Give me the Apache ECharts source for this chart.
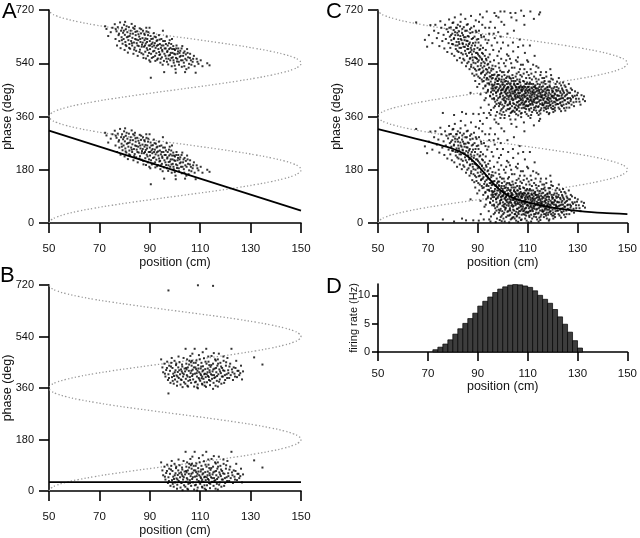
<!DOCTYPE html>
<html><head><meta charset="utf-8">
<script src="https://cdn.jsdelivr.net/npm/echarts@6/dist/echarts.min.js"></script>
<style>html,body{margin:0;padding:0;background:#fff}#c{width:640px;height:538px}</style>
</head><body><div id="c"></div>
<script>
// ---- tick values ----
const positionTicks = [50, 70, 90, 110, 130, 150];
const phaseTicks = [0, 180, 360, 540, 720];
const rateTicks = [0, 5, 10];
const rateMax = 12;

// ---- dotted reference curve (position at each phase) ----
const guidePhase = [0,10,20,30,40,50,60,70,80,90,100,110,120,130,140,150,160,170,180,190,200,210,220,230,240,250,260,270,280,290,300,310,320,330,340,350,360,370,380,390,400,410,420,430,440,450,460,470,480,490,500,510,520,530,540,550,560,570,580,590,600,610,620,630,640,650,660,670,680,690,700,710,720];
const guidePos = [50,50.8,53,56.7,61.7,67.9,75,82.9,91.3,100,108.7,117.1,125,132.1,138.3,143.3,147,149.2,150,149.2,147,143.3,138.3,132.1,125,117.1,108.7,100,91.3,82.9,75,67.9,61.7,56.7,53,50.8,50,50.8,53,56.7,61.7,67.9,75,82.9,91.3,100,108.7,117.1,125,132.1,138.3,143.3,147,149.2,150,149.2,147,143.3,138.3,132.1,125,117.1,108.7,100,91.3,82.9,75,67.9,61.7,56.7,53,50.8,50];

// ---- fitted lines ----
const fitA = [[50,312],[150,42]];
const fitB = [[50,31],[150,31]];
const fitC = [[50,317],[60,296],[70,275],[76,261],[80,251],[82,244],[84,236],[86,225],[88,211],[90,194],[92,175],[94,155],[96,136],[98,119],[100,105],[102,94],[104,86],[106,79],[108,74],[110,70],[115,60],[120,52],[125,46],[130,41],[140,34],[150,30]];

// ---- spikes (position cm, phase deg in one cycle) ----
const spikesA = [[72.3,305],[72.8,296],[74.5,285],[75.2,300],[73.5,272],
[76.1,312],[76.4,262],[76.8,288],[77.0,240],[77.3,302],[77.6,275],[77.9,255],[78.2,318],[78.4,231],[78.6,290],[78.8,268],
[79.0,300],[79.2,246],[79.4,283],[79.6,262],[79.8,310],[80.0,225],[80.1,276],[80.3,252],[80.5,295],[80.7,238],[80.9,268],[81.1,285],[81.3,216],[81.5,258],[81.7,302],[81.9,245],
[82.0,272],[82.2,229],[82.4,290],[82.6,255],[82.8,313],[83.0,240],[83.1,266],[83.3,280],[83.5,212],[83.7,250],[83.9,296],[84.0,233],[84.2,262],[84.4,275],[84.6,222],[84.8,248],
[85.0,288],[85.2,205],[85.4,258],[85.6,238],[85.8,270],[86.0,298],[86.1,226],[86.3,252],[86.5,281],[86.7,214],[86.9,243],[87.1,265],[87.3,290],[87.5,198],[87.7,236],[87.9,258],
[88.0,276],[88.2,219],[88.4,247],[88.6,300],[88.8,231],[89.0,262],[89.2,205],[89.4,285],[89.6,240],[89.8,190],[90.0,255],[90.1,228],[90.3,272],[90.5,212],[90.7,245],[90.4,131],[90.2,185],[89.9,300],
[91.0,236],[91.2,263],[91.4,201],[91.6,282],[91.8,222],[92.0,248],[92.2,188],[92.4,268],[92.6,214],[92.8,239],[93.0,258],[93.2,196],[93.4,228],[93.6,275],[93.8,208],[94.0,245],
[94.2,182],[94.4,232],[94.6,262],[94.8,200],[95.0,220],[95.2,290],[95.4,240],[95.6,188],[95.8,212],[96.0,255],[95.7,150],[96.3,230],[96.5,196],[96.7,270],[96.9,218],
[97.1,240],[97.3,176],[97.5,206],[97.7,228],[97.9,258],[98.1,190],[98.3,215],[98.5,245],[98.7,170],[98.9,228],[99.1,200],[99.3,238],[99.5,182],[99.7,212],
[100.0,225],[100.2,160],[100.4,198],[100.6,240],[100.8,186],[101.0,212],[101.3,230],[101.6,175],[101.9,202],[102.1,222],[102.4,190],[102.7,168],[102.9,238],
[103.2,205],[103.5,182],[103.8,220],[104.1,195],[104.5,160],[104.8,228],[105.2,200],[105.6,178],[106.0,212],[106.3,190],
[107.0,185],[107.5,205],[108.2,148],[108.6,195],[109.3,178],[112.8,180],[113.7,173],[100.3,148],[104.0,150],
[76.5,295],[77.8,280],[78.9,258],[79.7,290],[80.4,242],[80.8,305],[81.4,270],[81.8,232],[82.3,280],[82.9,248],[83.4,300],[83.8,226],[84.3,286],[84.7,260],[85.1,240],[85.5,278],[85.9,218],[86.2,262],[86.6,295],[86.8,236],[87.2,250],[87.4,210],[87.8,280],[88.1,240],[88.3,264],[88.5,196],[88.9,252],[89.1,225],[89.3,275],[89.7,215],[90.1,240],[90.6,262],[90.8,198],[91.1,250],[91.3,220],[91.7,240],[91.9,270],[92.1,205],[92.3,232],[92.7,255],[92.9,192],[93.3,242],[93.7,218],[93.9,260],[94.1,210],[94.3,195],[94.7,240],[94.9,225],[95.1,175],[95.3,255],[95.9,230],[96.2,205],[96.4,245],[96.8,185],[97.0,222],[97.4,195],[97.6,248],[98.0,208],[98.2,232],[98.6,198],[98.8,262],[99.0,215],[99.4,190],[99.6,228],[99.9,172],[100.1,210],[100.5,230],[100.9,195],[101.2,220],[101.5,185],[101.8,215],[102.3,205],[102.6,230],[103.0,190],[103.4,215],[103.7,170],[104.3,210],[104.6,190],[105.0,215],[105.4,165],[105.9,198],[106.5,175],[107.2,195],[107.8,170],[108.9,185],[110.2,190],[110.9,170],[88.7,288],[84.1,305],[80.2,320]];

const spikesB = [[94.5,100],[95.0,72],[95.3,55],[95.8,85],[96.2,40],[96.5,63],[96.9,92],[97.2,28],[97.4,48],[97.7,78],[97.4,341],
[98.0,60],[98.2,18],[98.5,88],[98.8,38],[99.0,70],[99.3,50],[99.5,15],[99.8,95],[100.0,30],[100.2,62],[100.4,80],[100.6,44],
[100.9,22],[101.1,56],[101.3,72],[101.5,35],[101.8,90],[102.0,48],[102.2,12],[102.4,65],[102.6,28],[102.8,82],[103.0,52],[103.2,40],[103.4,105],[103.6,20],[103.8,68],
[104.0,58],[104.2,137],[104.3,32],[104.5,85],[104.7,45],[104.9,8],[105.1,72],[105.3,25],[105.5,60],[105.7,95],[105.9,38],[106.1,112],[106.2,52],[106.4,18],[106.6,78],[106.8,42],[106.9,120],
[107.0,64],[107.2,30],[107.4,88],[107.6,5],[107.8,137],[107.9,50],[108.1,72],[108.3,22],[108.5,96],[108.7,40],[108.9,60],[109.0,12],[109.1,359],[109.2,80],[109.4,35],[109.6,55],[109.8,100],
[110.0,25],[110.2,68],[110.3,45],[110.5,88],[110.7,15],[110.9,58],[111.1,76],[111.3,32],[111.5,104],[111.6,48],[111.8,8],[112.0,66],[112.2,38],[112.4,137],[112.5,85],[112.7,20],[112.9,55],
[113.1,42],[113.3,92],[113.5,28],[113.7,62],[113.9,10],[114.1,74],[114.3,48],[114.5,112],[114.7,32],[114.9,58],[115.1,357],[115.1,85],[115.3,18],[115.5,45],[115.7,68],
[116.0,38],[116.2,96],[116.4,55],[116.6,25],[116.8,78],[117.0,5],[117.2,48],[117.4,120],[117.6,65],[117.8,30],[118.0,88],[118.2,52],[118.4,15],
[118.7,70],[119.0,40],[119.3,95],[119.6,60],[119.9,28],[120.2,78],[120.5,48],[120.8,105],[121.1,62],
[121.5,35],[121.9,85],[122.4,137],[122.8,55],[123.3,72],[123.8,40],[124.3,95],[124.8,60],[125.5,45],[126.2,78],[126.6,30],[127.0,58],
[131.4,107],[134.7,82],[102.7,58],[108.4,66],[110.6,34],[104.4,70],[106.3,90],[111.9,50],[99.6,42],[113.6,80],
[96.0,50],[96.8,70],[97.6,35],[98.4,75],[99.1,25],[99.9,55],[100.5,85],[101.0,40],[101.7,62],[102.3,30],[102.9,75],[103.5,48],[104.1,15],[104.6,65],[105.0,40],[105.6,82],[106.0,28],[106.5,60],[107.1,48],[107.5,72],[107.9,20],[108.2,88],[108.6,52],[109.3,68],[109.7,30],[110.1,50],[110.4,75],[110.8,40],[111.2,62],[111.7,20],[112.1,92],[112.6,48],[113.0,68],[113.4,38],[113.8,55],[114.0,25],[114.4,80],[114.8,45],[115.2,65],[115.6,35],[115.9,100],[116.3,70],[116.7,42],[117.1,85],[117.5,22],[117.9,58],[118.3,75],[118.6,40],[119.1,62],[119.5,18],[119.8,45],[120.3,90],[120.7,35],[121.2,52],[121.6,75],[122.1,45],[122.6,65],[123.0,28],[123.6,50],[124.0,70],[124.6,38],[125.2,60],[125.9,52],[104.8,100],[106.7,95],[109.5,115],[111.0,125],[113.2,110],[115.4,122],[117.0,100],[119.2,110],[101.4,110],[98.7,105],[100.8,8],[105.2,5],[108.8,2],[112.3,4],[116.1,8],[110.9,12],[103.0,3]];

const spikesC = [[65.3,318],[68.8,259],[69.7,236],[70.4,275],[71.0,309],[71.8,248],
[72.5,290],[73.0,310],[73.6,265],
[74.2,282],[74.6,238],[75.0,322],[75.4,300],[75.8,255],
[76.0,12],[76.3,276],[76.6,230],[76.9,310],[77.2,262],[77.5,295],[77.8,218],
[78.1,286],[78.3,248],[78.5,328],[78.8,270],[79.0,232],[79.2,301],[79.4,258],[79.6,212],[79.8,280],[79.9,316],
[80.1,244],[80.3,292],[80.5,265],[80.6,205],[80.8,335],[81.0,275],[81.2,228],[81.3,300],[81.5,252],[81.7,190],[81.8,283],[81.9,240],
[82.0,310],[82.2,262],[82.3,218],[82.5,288],[82.6,245],[82.8,198],[83.0,272],[83.1,320],[83.3,232],[83.5,258],[83.6,182],[83.8,296],[83.9,248],[83.2,345],
[84.0,210],[84.1,275],[84.3,236],[84.4,302],[84.6,190],[84.7,258],[84.9,222],[85.0,330],[85.1,268],[85.3,170],[85.4,243],[85.6,290],[85.7,205],[85.9,255],[85.3,9],[85.8,228],
[86.0,312],[86.1,238],[86.3,185],[86.4,270],[86.5,215],[86.7,160],[86.8,250],[86.9,295],[87.0,198],[87.2,232],[87.3,340],[87.4,175],[87.6,262],[87.7,210],[87.8,145],[87.9,285],[87.1,80],[87.5,225],
[88.0,190],[88.1,248],[88.2,9],[88.3,165],[88.4,220],[88.5,305],[88.6,138],[88.7,270],[88.8,200],[88.9,240],[89.0,120],[89.1,180],[89.2,325],[89.3,215],[89.4,155],[89.6,260],[89.7,195],[89.8,100],[89.9,232],[89.5,285],
[90.0,170],[90.1,210],[90.2,135],[90.3,250],[90.4,190],[90.5,290],[90.6,110],[90.7,225],[90.8,160],[90.9,345],[91.0,200],[91.1,75],[91.2,240],[91.3,145],[91.4,180],[91.5,268],[91.6,125],[91.7,215],[91.8,310],[91.9,165],[91.2,30],[91.6,195],
[92.0,150],[92.1,232],[92.2,95],[92.3,185],[92.4,120],[92.5,270],[92.6,170],[92.7,55],[92.8,205],[92.9,140],[93.0,300],[93.1,105],[93.2,225],[93.3,160],[93.4,80],[93.5,190],[93.6,355],[93.7,130],[93.8,248],[93.9,175],[92.4,12],[93.2,62],[93.5,145],[93.9,112],
[94.0,150],[94.1,90],[94.2,200],[94.3,125],[94.4,40],[94.5,165],[94.6,280],[94.7,108],[94.8,135],[94.9,70],[95.0,185],[95.1,320],[95.2,118],[95.3,22],[95.4,155],[95.5,95],[95.6,240],[95.7,140],[95.8,60],[95.9,172],[94.3,258],[94.8,210],[95.3,82],[95.6,128],[95.9,102],[95.1,5],
[96.0,130],[96.1,75],[96.2,160],[96.3,105],[96.4,30],[96.5,190],[96.6,88],[96.7,142],[96.8,265],[96.9,115],[97.0,50],[97.1,170],[97.2,95],[97.3,128],[97.4,340],[97.5,70],[97.6,150],[97.7,15],[97.8,110],[97.9,205],[96.2,225],[96.6,58],[97.0,98],[97.4,82],[97.8,135],[96.9,300],[97.5,42],[97.9,120],
[98.0,85],[98.1,140],[98.2,62],[98.3,110],[98.4,180],[98.5,35],[98.6,95],[98.7,125],[98.8,10],[98.9,75],[99.0,155],[99.1,100],[99.2,48],[99.3,230],[99.4,118],[99.5,80],[99.6,25],[99.7,135],[99.8,92],[99.9,58],[98.2,285],[98.6,165],[99.0,68],[99.4,195],[99.8,108],[98.4,128],[98.9,42],[99.3,88],[99.7,150],[99.1,355],
[100.0,115],[100.1,70],[100.2,30],[100.3,95],[100.4,150],[100.5,55],[100.6,125],[100.7,82],[100.8,5],[100.9,105],[101.0,45],[101.1,170],[101.2,78],[101.3,120],[101.4,20],[101.5,92],[101.6,60],[101.7,210],[101.8,135],[101.9,38],[100.1,250],[100.5,100],[100.9,65],[101.3,88],[101.7,110],[100.3,15],[100.7,140],[101.1,52],[101.5,75],[101.9,98],[100.6,310],[101.4,190],
[102.0,80],[102.1,118],[102.2,40],[102.3,98],[102.4,65],[102.5,155],[102.6,25],[102.7,88],[102.8,130],[102.9,50],[103.0,108],[103.1,72],[103.2,12],[103.3,92],[103.4,180],[103.5,58],[103.6,120],[103.7,35],[103.8,85],[103.9,140],[102.2,240],[102.6,70],[103.0,28],[103.4,102],[103.8,62],[102.4,112],[102.8,45],[103.2,78],[103.6,95],[103.9,18],[102.9,195],[103.5,335],[102.1,150],[103.3,128],
[104.0,95],[104.1,55],[104.2,130],[104.3,20],[104.4,78],[104.5,108],[104.6,42],[104.7,165],[104.8,68],[104.9,88],[105.0,30],[105.1,120],[105.2,60],[105.3,100],[105.4,8],[105.5,75],[105.6,145],[105.7,48],[105.8,92],[105.9,65],[104.2,220],[104.6,112],[105.0,82],[105.4,38],[105.8,125],[104.4,58],[104.8,15],[105.2,135],[105.6,98],[105.9,185],[105.1,350],[104.5,290],[104.9,72],[105.7,25],
[106.0,70],[106.1,110],[106.2,35],[106.3,88],[106.4,150],[106.5,52],[106.6,95],[106.7,18],[106.8,125],[106.9,62],[107.0,80],[107.1,40],[107.2,105],[107.3,175],[107.4,58],[107.5,92],[107.6,28],[107.7,135],[107.8,72],[107.9,48],[106.1,200],[106.5,78],[106.9,100],[107.3,10],[107.7,85],[106.3,65],[106.7,118],[107.1,140],[107.5,45],[107.9,98],[106.8,260],[107.4,358],[106.4,30],[107.6,68],
[108.0,90],[108.1,55],[108.2,120],[108.3,30],[108.4,75],[108.5,102],[108.6,42],[108.7,160],[108.8,65],[108.9,85],[109.0,15],[109.1,110],[109.2,50],[109.3,80],[109.4,130],[109.5,38],[109.6,95],[109.7,60],[109.8,190],[109.9,72],[108.2,240],[108.6,70],[109.0,100],[109.4,25],[109.8,115],[108.4,145],[108.8,48],[109.2,68],[109.6,8],[109.9,88],[108.5,340],[109.1,35],
[110.0,62],[110.1,100],[110.2,35],[110.3,80],[110.4,140],[110.5,50],[110.6,90],[110.7,20],[110.8,70],[110.9,115],[111.0,42],[111.1,85],[111.2,160],[111.3,58],[111.4,28],[111.5,98],[111.6,72],[111.7,125],[111.8,45],[111.9,82],[110.2,185],[110.6,110],[111.0,65],[111.4,5],[111.8,95],[110.4,38],[110.8,130],[111.2,78],[111.6,52],[111.1,355],
[112.0,75],[112.1,40],[112.2,110],[112.3,58],[112.4,90],[112.5,22],[112.6,135],[112.7,68],[112.8,48],[112.9,100],[113.0,82],[113.1,30],[113.2,150],[113.3,62],[113.4,95],[113.5,45],[113.6,118],[113.7,72],[113.8,12],[113.9,88],[112.2,175],[112.6,55],[113.0,105],[113.4,35],[113.8,65],[112.8,205],[113.3,128],[112.4,80],
[114.0,60],[114.1,95],[114.2,32],[114.3,78],[114.4,125],[114.5,50],[114.6,85],[114.7,18],[114.8,68],[114.9,108],[115.0,42],[115.1,140],[115.2,75],[115.3,55],[115.4,92],[115.5,28],[115.6,115],[115.7,65],[115.8,82],[115.9,45],[114.3,165],[114.7,100],[115.1,10],[115.5,70],[115.9,130],[115.0,352],
[116.0,72],[116.1,38],[116.2,102],[116.3,55],[116.4,85],[116.5,20],[116.6,130],[116.7,62],[116.8,92],[116.9,45],[117.0,75],[117.1,110],[117.2,30],[117.3,68],[117.4,150],[117.5,50],[117.6,88],[117.7,15],[117.8,60],[117.9,98],[116.4,40],[116.8,120],[117.2,82],[117.6,35],
[118.0,58],[118.1,90],[118.2,28],[118.3,72],[118.4,118],[118.5,45],[118.6,80],[118.7,12],[118.8,62],[118.9,100],[119.0,38],[119.2,75],[119.4,140],[119.6,52],[119.8,88],[119.9,25],[118.4,55],[118.8,105],[119.2,40],[119.6,68],[119.9,82],[119.1,160],
[120.0,65],[120.2,35],[120.4,95],[120.6,50],[120.8,78],[121.0,20],[121.2,110],[121.4,58],[121.6,85],[121.8,42],[120.1,125],[120.5,70],[120.9,30],[121.3,62],[121.7,100],[121.1,48],[120.3,15],[121.9,72],
[122.0,55],[122.2,88],[122.4,30],[122.6,70],[122.8,112],[123.0,45],[123.2,80],[123.4,18],[123.6,62],[123.8,95],[122.5,130],[123.1,60],[123.5,38],[123.9,75],
[124.0,50],[124.3,85],[124.6,28],[124.9,68],[125.2,100],[125.5,42],[125.8,75],[124.2,115],[124.7,55],[125.1,20],[125.6,90],[125.9,60],
[126.1,48],[126.4,80],[126.7,30],[127.0,62],[127.3,95],[127.6,40],[127.9,70],[126.5,110],[127.2,52],
[128.2,65],[128.6,35],[129.0,85],[129.5,50],[129.8,72],
[130.5,60],[131.2,40],[132.6,68],[133.0,52],
[78.6,300],[79.3,275],[79.7,245],[80.2,318],[80.4,262],[80.9,285],[81.1,240],[81.6,300],[81.8,222],[82.1,275],[82.4,252],[82.7,232],[82.9,305],[83.2,262],[83.4,215],[83.7,282],[84.0,245],[84.2,195],[84.5,268],[84.8,235],[85.0,290],[85.2,212],[85.5,256],[85.8,180],[86.0,272],[86.2,228],[86.5,245],[86.8,195],[87.0,282],[87.1,218],[87.3,168],[87.6,240],[87.9,200],[88.1,265],[88.3,182],[88.6,228],[88.9,160],[89.1,250],[89.3,198],[89.5,142],[89.8,215],[90.0,185],[90.2,262],[90.4,158],[90.6,205],[90.8,130],[91.0,228],[91.2,172],[91.5,148],[91.7,192],[91.9,118],[92.1,212],[92.3,155],[92.6,132],[92.8,180],[93.0,102],[93.3,195],[93.5,125],[93.8,158],[94.0,85],[94.2,178],[94.5,112],[94.8,148],[95.0,68],[95.2,135],[95.5,162],[95.7,108],[95.9,88],[85.6,310],[87.4,300],[89.2,290],[91.3,275],[93.1,260],[90.5,320],[92.0,335],[94.6,300],[96.4,280],[97.8,250],[98.5,220],[99.2,270],
[96.1,95],[96.3,140],[96.5,62],[96.7,108],[96.9,35],[97.1,125],[97.3,80],[97.6,100],[97.8,55],[98.0,120],[98.2,90],[98.4,45],[98.6,140],[98.8,65],[99.0,105],[99.2,20],[99.4,78],[99.6,125],[99.8,40],[100.0,90],[100.2,108],[100.4,62],[100.6,35],[100.8,118],[101.0,85],[101.2,50],[101.4,130],[101.6,95],[101.8,70],[102.0,25],[102.2,100],[102.4,58],[102.6,135],[102.8,82],[103.0,42],[103.2,112],[103.4,68],[103.6,15],[103.8,100],[104.0,78],[104.2,45],[104.4,120],[104.6,85],[104.8,30],[105.0,105],[105.2,65],[105.4,90],[105.6,22],[105.8,110],[106.0,48],[106.2,80],[106.4,100],[106.6,40],[106.8,70],[107.0,115],[107.2,55],[107.4,88],[107.6,12],[107.8,100],[108.0,62],[108.2,40],[108.4,95],[108.6,118],[108.8,28],[109.0,78],[109.2,90],[109.4,52],[109.6,110],[109.8,35],[110.0,85],[110.2,58],[110.4,100],[110.6,25],[110.8,92],[111.0,55],[111.2,40],[111.4,110],[111.6,65],[111.8,15],[112.0,85],[112.2,50],[112.4,100],[112.6,30],[112.8,75],[113.0,60],[113.2,95],[113.4,20],[113.6,85],[113.8,48],[114.0,110],[114.2,68],[114.4,35],[114.6,90],[114.8,55],[115.0,80],[115.2,22],[115.4,65],[115.6,100],[115.8,40],[116.0,88],[116.2,60],[116.4,115],[116.6,30],[116.8,72],[117.0,50],[117.2,95],[117.4,25],[117.6,78],[117.8,45],[118.0,100],[118.2,65],[118.4,35],[118.6,88],[118.8,50],[119.0,118],[119.2,60],[119.4,30],[119.6,95],[119.8,70],[120.0,45],[120.2,85],[120.4,25],[120.6,62],[120.8,100],[121.0,75],[121.2,40],[121.4,90],[121.6,55],[121.8,118],[122.0,70],[122.2,42],[122.4,95],[122.6,58],[122.8,25],[123.0,85],[123.2,48],[123.4,105],[123.6,70],[123.8,35],[124.0,90],[124.2,62],[124.4,40],[124.6,80],[124.8,105],[125.0,55],[125.3,72],[125.6,30],[125.9,85],[126.2,62],[126.6,45],[127.0,80],[127.4,58],[127.8,90],[128.4,48],[128.9,70],[129.4,60],[130.1,80],[130.8,50],[131.6,72],[132.2,58],
[100.5,180],[102.3,205],[103.7,165],[105.3,190],[106.9,160],[108.1,175],[109.7,150],[111.5,145],[113.5,170],[115.3,150],[117.5,135],[119.5,128],[104.1,250],[106.2,235],[108.9,215],[110.9,240],[101.9,280],[99.5,320],[103.1,350],[105.5,325],[108.7,310],[112.5,330],[114.6,345],[96.7,350],[98.3,335],[100.7,355],
[80.5,5],[83.7,15],[90.4,8],[94.6,12],[97.2,3],[99.6,6],[102.6,2],[106.2,4],[110.3,2],[114.4,5],[118.5,8]];

// ---- firing-rate histogram (2 cm bins, left edges) ----
const rateBinLeft = [72,74,76,78,80,82,84,86,88,90,92,94,96,98,100,102,104,106,108,110,112,114,116,118,120,122,124,126,128,130];
const rateHz = [0.4,0.85,1.4,2.15,3.15,4.1,5.05,5.9,6.85,8.1,8.95,9.7,10.5,11.1,11.5,11.8,11.9,11.85,11.65,11.4,10.8,10.0,9.3,8.6,7.5,6.2,4.9,3.5,2.0,0.7];
const binWidth = 2;

// ---------------------------------------------------------------
const FONT = '"Liberation Sans", Arial, Helvetica, sans-serif';
const twoCycles = pts => pts.concat(pts.map(p => [p[0], p[1] + 360]));
const guideData = guidePhase.map((ph, i) => [guidePos[i], ph]);
const rateData = rateBinLeft.map((x, i) => [x, rateHz[i], x + binWidth]);

const grids = [
  {left: 48, top: 10, width: 253, height: 213},   // A
  {left: 48, top: 285, width: 253, height: 213},  // B
  {left: 378, top: 10, width: 254, height: 213},  // C
  {left: 378, top: 284, width: 254, height: 68}   // D
];

function xAx(i){
  return {
    gridIndex: i, type: 'value', min: positionTicks[0], max: positionTicks[positionTicks.length-1],
    interval: positionTicks[1]-positionTicks[0],
    name: 'position (cm)', nameLocation: 'middle', nameGap: i===3 ? 28 : 33, nameMoveOverlap: false,
    nameTextStyle: {fontFamily: FONT, fontSize: 12.5, color: '#111'},
    axisLine: {show: true, onZero: false, lineStyle: {color: '#000', width: 1.6}},
    axisTick: {show: true, inside: false, length: i===3 ? 9 : 10, lineStyle: {color: '#000', width: 1.6}},
    axisLabel: {fontFamily: FONT, fontSize: 11.5, color: '#111', margin: i===3 ? 16 : 20},
    splitLine: {show: false}
  };
}
function yPhase(i){
  return {
    gridIndex: i, type: 'value', min: phaseTicks[0], max: phaseTicks[phaseTicks.length-1],
    interval: phaseTicks[1]-phaseTicks[0],
    name: 'phase (deg)', nameLocation: 'middle', nameGap: 35, nameMoveOverlap: false,
    nameTextStyle: {fontFamily: FONT, fontSize: 12.5, color: '#111'},
    axisLine: {show: true, onZero: false, lineStyle: {color: '#000', width: 1.6}},
    axisTick: {show: true, inside: false, length: 10, lineStyle: {color: '#000', width: 1.6}},
    axisLabel: {fontFamily: FONT, fontSize: 11, color: '#111', margin: 15},
    splitLine: {show: false}
  };
}
const yRate = {
  gridIndex: 3, type: 'value', min: 0, max: rateMax,
  name: 'firing rate (Hz)', nameLocation: 'middle', nameGap: 19, nameMoveOverlap: false,
  nameTextStyle: {fontFamily: FONT, fontSize: 11, color: '#111'},
  axisLine: {show: true, onZero: false, lineStyle: {color: '#000', width: 1.6}},
  axisTick: {show: true, inside: false, length: 6, customValues: rateTicks, lineStyle: {color: '#000', width: 1.6}},
  axisLabel: {fontFamily: FONT, fontSize: 11, color: '#111', margin: 8, customValues: rateTicks},
  splitLine: {show: false}
};

function guide(i){
  return {type: 'line', xAxisIndex: i, yAxisIndex: i, data: guideData, smooth: true, showSymbol: false,
    silent: true, z: 1, lineStyle: {color: '#9a9a9a', width: 1.3, type: [1.3, 2.2]}};
}
function spikes(i, pts){
  return {type: 'scatter', xAxisIndex: i, yAxisIndex: i, data: twoCycles(pts), symbol: 'rect', symbolSize: 2,
    itemStyle: {color: '#000'}, silent: true, z: 3};
}
function fit(i, pts, smooth){
  return {type: 'line', xAxisIndex: i, yAxisIndex: i, data: pts, smooth: smooth, showSymbol: false, silent: true, z: 4,
    lineStyle: {color: '#000', width: 1.8}};
}

const letters = [['A', 2, 1], ['B', 0, 265], ['C', 326, 1], ['D', 326, 276]].map(([t, x, y]) => ({
  type: 'text', left: x, top: y, style: {text: t, font: '22px ' + FONT, fill: '#000'}
}));

const option = {
  animation: false,
  backgroundColor: '#fff',
  grid: grids,
  xAxis: [xAx(0), xAx(1), xAx(2), xAx(3)],
  yAxis: [yPhase(0), yPhase(1), yPhase(2), yRate],
  graphic: letters,
  series: [
    guide(0), spikes(0, spikesA), fit(0, fitA, false),
    guide(1), spikes(1, spikesB), fit(1, fitB, false),
    guide(2), spikes(2, spikesC), fit(2, fitC, 0.3),
    {
      type: 'custom', xAxisIndex: 3, yAxisIndex: 3, data: rateData, silent: true,
      encode: {x: [0, 2], y: 1},
      renderItem: function(params, api){
        const p0 = api.coord([api.value(0), api.value(1)]);
        const p1 = api.coord([api.value(2), 0]);
        return {type: 'rect', shape: {x: p0[0], y: p0[1], width: p1[0]-p0[0], height: p1[1]-p0[1]},
          style: {fill: '#3d3d3d', stroke: '#000', lineWidth: 0.7}};
      }
    }
  ]
};
const chart = echarts.init(document.getElementById('c'), null, {renderer: 'canvas'});
chart.setOption(option);
</script></body></html>
